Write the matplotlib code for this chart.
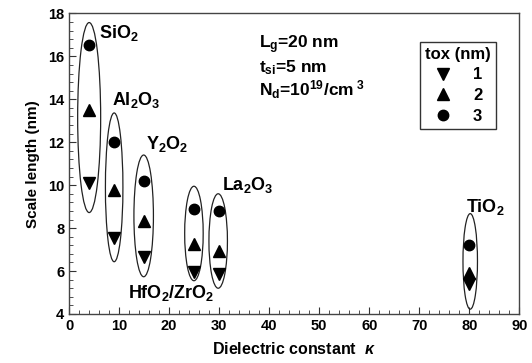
import matplotlib
matplotlib.use("Agg")
import matplotlib.pyplot as plt
from matplotlib.patches import Ellipse
from matplotlib.lines import Line2D
from matplotlib.ticker import MultipleLocator

plt.rcParams['font.family'] = ['Liberation Sans', 'DejaVu Sans']
plt.rcParams['font.weight'] = 'bold'
plt.rcParams['axes.labelweight'] = 'bold'
plt.rcParams['mathtext.fontset'] = 'custom'
plt.rcParams['mathtext.rm'] = 'Liberation Sans:bold'
plt.rcParams['mathtext.bf'] = 'Liberation Sans:bold'
plt.rcParams['mathtext.it'] = 'Liberation Sans:italic:bold'

# dielectric constant of each gate oxide
materials = [r'SiO$_2$', r'Al$_2$O$_3$', r'Y$_2$O$_2$', r'HfO$_2$/ZrO$_2$', r'La$_2$O$_3$', r'TiO$_2$']
kappa = [3.9, 9, 15, 25, 30, 80]

# scale length (nm) for tox = 1, 2, 3 nm
tox1 = [10.1, 7.55, 6.64, 5.94, 5.86, 5.39]
tox2 = [13.5, 9.76, 8.32, 7.26, 6.95, 5.89]
tox3 = [16.55, 12.02, 10.2, 8.9, 8.78, 7.23]

# ellipse outlines: centre x, centre y, width, height
ell_x = [4.0, 9.0, 14.9, 24.95, 29.8, 80.2]
ell_y = [13.15, 9.9, 8.57, 7.75, 7.4, 6.45]
ell_w = [4.6, 3.5, 3.9, 3.7, 3.7, 2.9]
ell_h = [8.85, 6.93, 5.67, 4.4, 4.4, 4.45]

# material label positions
lab_x = [6.0, 8.6, 15.3, 11.7, 30.5, 79.3]
lab_y = [17.08, 13.97, 11.92, 4.98, 10.0, 9.0]

fig = plt.figure(figsize=(5.32, 3.63), dpi=100)
ax = fig.add_axes([0.130, 0.135, 0.846, 0.828])

for cx, cy, w, h in zip(ell_x, ell_y, ell_w, ell_h):
    ax.add_patch(Ellipse((cx, cy), w, h, fill=False, edgecolor='#222222', lw=0.9, zorder=2))

ax.plot(kappa, tox1, 'v', color='black', ms=8, ls='none', zorder=3)
ax.plot(kappa, tox2, '^', color='black', ms=8, ls='none', zorder=3)
ax.plot(kappa, tox3, 'o', color='black', ms=7.5, ls='none', zorder=3)

for name, x, y in zip(materials, lab_x, lab_y):
    ax.text(x, y, name, fontsize=13, va='center', ha='left')

ax.text(38.0, 16.53, r'L$_\mathregular{g}$=20 nm', fontsize=12.5, va='center')
ax.text(38.0, 15.46, r't$_\mathregular{si}$=5 nm', fontsize=12.5, va='center')
ax.text(38.0, 14.43, r'N$_\mathregular{d}$=10$^{19}$/cm$^{\ 3}$', fontsize=12.5, va='center')

handles = [Line2D([], [], marker='v', color='black', ls='none', ms=8),
           Line2D([], [], marker='^', color='black', ls='none', ms=8),
           Line2D([], [], marker='o', color='black', ls='none', ms=7.5)]
leg = ax.legend(handles, ['1', '2', '3'], title='tox (nm)', loc='upper right',
                bbox_to_anchor=(0.966, 0.934), fancybox=False, framealpha=1,
                edgecolor='#333333', fontsize=12, title_fontsize=12,
                handletextpad=1.2, labelspacing=0.35, borderpad=0.3,
                handlelength=1.2)
leg.get_frame().set_linewidth(1.0)
leg.get_title().set_fontweight('bold')

ax.set_xlim(0, 90)
ax.set_ylim(4, 18)
ax.xaxis.set_major_locator(MultipleLocator(10))
ax.xaxis.set_minor_locator(MultipleLocator(2))
ax.yaxis.set_major_locator(MultipleLocator(2))
ax.yaxis.set_minor_locator(MultipleLocator(0.4))
ax.tick_params(which='both', direction='in', top=False, right=False, labelsize=10.5, color='#333333')
ax.tick_params(which='major', length=5)
ax.tick_params(which='minor', length=3)
for lbl in ax.get_xticklabels() + ax.get_yticklabels():
    lbl.set_fontweight('bold')
for s in ax.spines.values():
    s.set_color('#444444')
    s.set_linewidth(1.0)

ax.set_xlabel(r'Dielectric constant  $\kappa$', fontsize=11.5, labelpad=6)
ax.set_ylabel('Scale length (nm)', fontsize=11, labelpad=6)

fig.savefig('out.png', dpi=100)
